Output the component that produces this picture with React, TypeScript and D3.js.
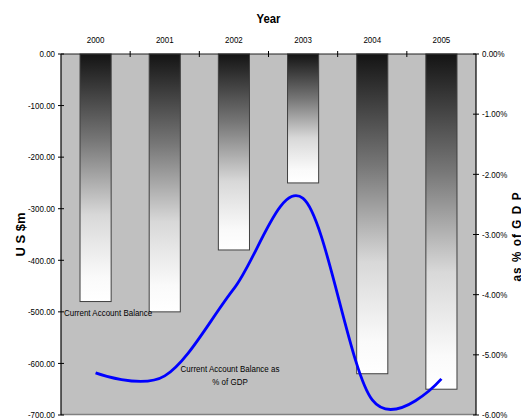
import React from 'react';
import * as d3 from 'd3';

const years = ['2000', '2001', '2002', '2003', '2004', '2005'];
const balance = [-480, -500, -380, -250, -620, -650];
const pctGdp = [-5.3, -5.35, -3.9, -2.4, -5.75, -5.4];
const leftTicks = [0, -100, -200, -300, -400, -500, -600, -700];
const rightTicks = [0, -1, -2, -3, -4, -5, -6];

const W = 521;
const H = 418;
const L = 61, R = 476, T = 54, B = 415;
const FONT = "'Liberation Sans', Arial, sans-serif";
const SX = 0.84;

function Txt(props: {
  x: number; y: number; size: number; anchor?: string; bold?: boolean; rot?: number; sx?: number; ls?: number;
  children: React.ReactNode;
}) {
  const { x, y, size, anchor = 'start', bold, rot = 0, sx = SX, ls } = props;
  const tr = rot
    ? `translate(${x},${y}) rotate(${rot}) scale(${sx},1)`
    : `translate(${x},${y}) scale(${sx},1)`;
  return (
    <text
      transform={tr}
      fontSize={size}
      textAnchor={anchor}
      fontWeight={bold ? 'bold' : 'normal'}
      fill="#000"
      letterSpacing={ls}
    >
      {props.children}
    </text>
  );
}

export default function App() {
  const x = d3.scaleBand<string>().domain(years).range([L, R]).paddingInner(0.55).paddingOuter(0.275);
  const yL = d3.scaleLinear().domain([-700, 0]).range([B, T]);
  const yR = d3.scaleLinear().domain([-6, 0]).range([B, T]);
  const bw = x.bandwidth();

  const line = d3
    .line<number>()
    .x((_, i) => (x(years[i]) as number) + bw / 2)
    .y((d) => yR(d))
    .curve(d3.curveCardinal.tension(0));

  const boundaries = d3.range(1, years.length).map((i) => L + (i * (R - L)) / years.length);

  return (
    <svg width={W} height={H} style={{ position: 'absolute', left: 0, top: 0, background: '#fff' }} fontFamily={FONT}>
      <defs>
        <linearGradient id="barGrad" x1="0" y1="0" x2="0" y2="1">
          <stop offset="0" stopColor="#141414" />
          <stop offset="0.35" stopColor="#777" />
          <stop offset="0.65" stopColor="#d8d8d8" />
          <stop offset="0.9" stopColor="#fafafa" />
          <stop offset="1" stopColor="#ffffff" />
        </linearGradient>
      </defs>
      <rect x={L} y={T} width={R - L} height={B - T} fill="#c0c0c0" />
      <line x1={L} x2={R} y1={B - 0.5} y2={B - 0.5} stroke="#808080" strokeWidth={1.5} />
      {years.map((yr, i) => (
        <rect
          key={yr}
          x={x(yr)}
          y={yL(0)}
          width={bw}
          height={yL(balance[i]) - yL(0)}
          fill="url(#barGrad)"
          stroke="#404040"
          strokeWidth={1}
        />
      ))}
      <path d={line(pctGdp) || ''} fill="none" stroke="#0000ff" strokeWidth={2.8} />
      <line x1={L} x2={L} y1={T} y2={B} stroke="#000" strokeWidth={1.2} />
      <line x1={R} x2={R} y1={T} y2={B} stroke="#000" strokeWidth={1.2} />
      <line x1={L} x2={R} y1={T} y2={T} stroke="#202020" strokeWidth={1.2} />
      {boundaries.map((bx, i) => (
        <line key={i} x1={bx} x2={bx} y1={51} y2={57} stroke="#000" strokeWidth={1} />
      ))}
      {years.map((yr) => (
        <Txt key={yr} x={(x(yr) as number) + bw / 2} y={43} size={9.5} anchor="middle">
          {yr}
        </Txt>
      ))}
      {leftTicks.map((t) => (
        <g key={t}>
          <line x1={L - 3} x2={L + 3} y1={yL(t)} y2={yL(t)} stroke="#000" strokeWidth={1} />
          <Txt x={L - 6} y={yL(t) + 3.3} size={9.5} anchor="end">
            {t.toFixed(2)}
          </Txt>
        </g>
      ))}
      {rightTicks.map((t) => (
        <g key={t}>
          <line x1={R - 3} x2={R + 3} y1={yR(t)} y2={yR(t)} stroke="#000" strokeWidth={1} />
          <Txt x={R + 6} y={yR(t) + 3.3} size={9.5}>
            {t.toFixed(2) + '%'}
          </Txt>
        </g>
      ))}
      <Txt x={(L + R) / 2} y={23} size={13.5} bold anchor="middle">
        Year
      </Txt>
      <Txt x={25} y={(T + B) / 2} size={13} bold anchor="middle" rot={-90} sx={1}>
        U S $m
      </Txt>
      <Txt x={521} y={(T + B) / 2 + 2} size={13} bold anchor="middle" rot={-90} sx={0.9} ls={1.2}>
        as % of G D P
      </Txt>
      <Txt x={64} y={316} size={9.5}>
        Current Account Balance
      </Txt>
      <Txt x={230} y={372} size={9.5} anchor="middle">
        Current Account Balance as
      </Txt>
      <Txt x={230} y={385} size={9.5} anchor="middle">
        % of GDP
      </Txt>
    </svg>
  );
}
